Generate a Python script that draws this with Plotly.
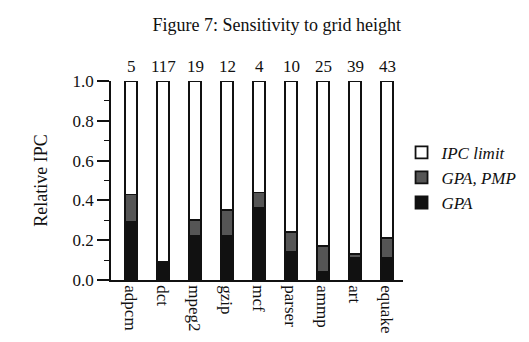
import plotly.graph_objects as go

benchmarks = ["adpcm", "dct", "mpeg2", "gzip", "mcf", "parser", "ammp", "art", "equake"]
gpa = [0.29, 0.09, 0.22, 0.22, 0.36, 0.14, 0.04, 0.11, 0.11]
gpa_pmp = [0.43, 0.09, 0.30, 0.35, 0.44, 0.24, 0.17, 0.13, 0.21]
ipc_limit = [1.0] * 9
heights = ["5", "117", "19", "12", "4", "10", "25", "39", "43"]

pmp_inc = [p - g for p, g in zip(gpa_pmp, gpa)]
lim_inc = [l - p for l, p in zip(ipc_limit, gpa_pmp)]

serif = "Liberation Serif, Times New Roman, serif"
line = dict(color="#111111", width=1.8)

fig = go.Figure()
fig.add_trace(go.Bar(x=benchmarks, y=gpa, name="GPA", marker=dict(color="#111111", line=line), width=0.37))
fig.add_trace(go.Bar(x=benchmarks, y=pmp_inc, name="GPA, PMP", marker=dict(color="#555555", line=line), width=0.37))
fig.add_trace(go.Bar(x=benchmarks, y=lim_inc, name="IPC limit", marker=dict(color="white", line=line), width=0.37))

for b, h, top in zip(benchmarks, heights, ipc_limit):
    fig.add_annotation(x=b, y=top, text=h, showarrow=False, yanchor="bottom", yshift=3,
                       font=dict(family=serif, size=17, color="#111"))

fig.update_layout(
    width=529, height=342,
    margin=dict(l=103, r=134, t=73, b=70),
    barmode="stack",
    paper_bgcolor="white", plot_bgcolor="white",
    font=dict(family=serif, color="#111", size=17),
    title=dict(text="Figure 7: Sensitivity to grid height", x=0.508, xref="container", xanchor="center",
               y=1 - 17 / 342, yref="container", yanchor="middle",
               font=dict(family=serif, size=18, color="#111")),
    showlegend=True,
    legend=dict(x=0.995, xanchor="left", y=0.73, yanchor="top", traceorder="reversed",
                font=dict(family=serif, size=17, style="italic", color="#111"),
                bgcolor="rgba(0,0,0,0)", tracegroupgap=0),
)
fig.update_xaxes(range=[-0.625, 8.5], showline=True, linecolor="#111", linewidth=1.8,
                 ticks="", tickangle=90, tickfont=dict(family=serif, size=17, color="#111"),
                 showgrid=False, zeroline=False)
fig.update_yaxes(range=[0, 1.0], showline=True, linecolor="#111", linewidth=1.8,
                 ticks="outside", ticklen=12, tickwidth=1.5, tickcolor="#111",
                 tickvals=[0, 0.2, 0.4, 0.6, 0.8, 1.0], tickformat=".1f",
                 minor=dict(dtick=0.1, ticks="outside", ticklen=5, tickwidth=1.3, tickcolor="#111", showgrid=False),
                 tickfont=dict(family=serif, size=17, color="#111"),
                 showgrid=False, zeroline=False,
                 title=dict(text="Relative IPC", font=dict(family=serif, size=18, color="#111"), standoff=20))

fig.write_html("out.html")
